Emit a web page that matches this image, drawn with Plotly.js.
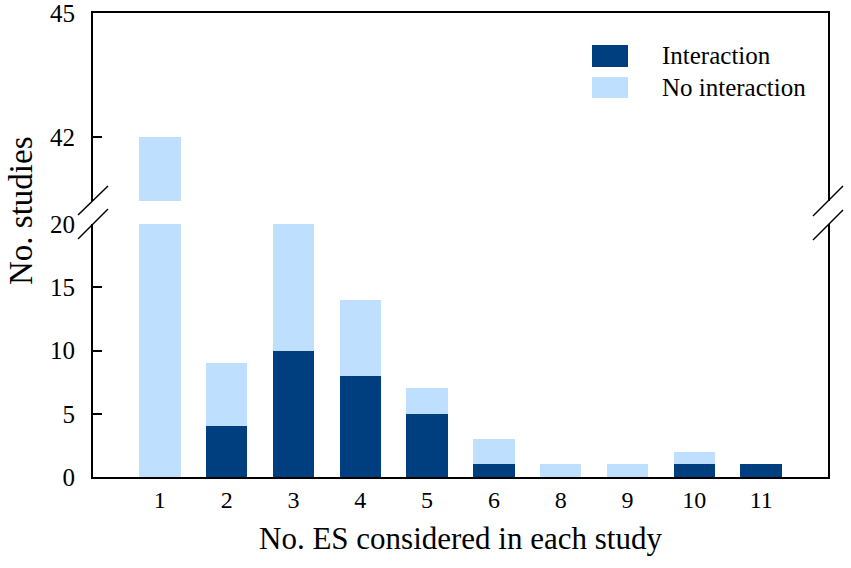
<!DOCTYPE html>
<html>
<head>
<meta charset="utf-8">
<script src="https://cdn.plot.ly/plotly-3.0.1.min.js"></script>
<style>
  html, body { margin: 0; padding: 0; background: #fff; }
  #plotDiv { width: 851px; height: 568px; }
</style>
</head>
<body>
<div id="plotDiv"></div>
<script>
// Data
const categories = ["1", "2", "3", "4", "5", "6", "8", "9", "10", "11"];
const interaction = [0, 4, 10, 8, 5, 1, 0, 0, 1, 1];
const noInteraction = [42, 5, 10, 6, 2, 2, 1, 1, 1, 0];
const seriesNames = ["Interaction", "No interaction"];
const lowerTicks = [0, 5, 10, 15, 20];
const upperTicks = [42, 45];

const darkBlue = "#003f7f";
const lightBlue = "#bfdfff";
const serif = "Liberation Serif";

// plot box in pixels (used only for decorations)
const W = 851, H = 568;
const L = 93, R = 23, T = 13, B = 91;
const pw = W - L - R, ph = H - T - B;
function px(x) { return (x - L) / pw; }
function py(y) { return (H - B - y) / ph; }

const lowerTop = py(224);
const upperBottom = py(201);

function barTrace(vals, name, color, xa, ya) {
  return {
    type: "bar",
    x: categories,
    y: vals,
    name: name,
    xaxis: xa,
    yaxis: ya,
    width: 0.62,
    marker: { color: color, line: { width: 0 } },
    showlegend: false,
    hoverinfo: "x+y+name",
  };
}

let traces = [
  barTrace(interaction, seriesNames[0], darkBlue, "x", "y"),
  barTrace(noInteraction, seriesNames[1], lightBlue, "x", "y"),
  barTrace(interaction, seriesNames[0], darkBlue, "x2", "y2"),
  barTrace(noInteraction, seriesNames[1], lightBlue, "x2", "y2"),
];

// axis break slashes
let shapes = [];
function slash(x1, y1, x2, y2) {
  shapes.push({
    type: "line", xref: "paper", yref: "paper",
    x0: px(x1), y0: py(y1), x1: px(x2), y1: py(y2),
    line: { color: "#000", width: 1.5 },
  });
}
slash(78, 215, 108, 186);
slash(78, 239, 108, 209);
slash(813, 216, 843, 186);
slash(813, 240, 843, 210);

// legend drawn as boxes + labels
const legendColors = [darkBlue, lightBlue];
const legendRows = [[45, 67], [77, 98]];
let annotations = [];
for (let i = 0; i < seriesNames.length; i++) {
  shapes.push({
    type: "rect", xref: "paper", yref: "paper",
    x0: px(592), x1: px(628),
    y0: py(legendRows[i][1]), y1: py(legendRows[i][0]),
    fillcolor: legendColors[i], line: { width: 0 },
  });
  annotations.push({
    xref: "paper", yref: "paper",
    x: px(660), y: py((legendRows[i][0] + legendRows[i][1]) / 2),
    xanchor: "left", yanchor: "middle",
    text: seriesNames[i], showarrow: false,
    font: { family: serif, size: 25, color: "#000" },
  });
}

// y axis title spans both panels
annotations.push({
  xref: "paper", yref: "paper",
  x: px(21), y: py(211),
  xanchor: "center", yanchor: "middle",
  textangle: -90,
  text: "No. studies", showarrow: false,
  font: { family: serif, size: 33, color: "#000" },
});

const axisCommon = {
  showgrid: false,
  zeroline: false,
  showline: true,
  linecolor: "#000",
  linewidth: 2,
};

let layout = {
  width: W,
  height: H,
  margin: { l: L, r: R, t: T, b: B },
  paper_bgcolor: "#fff",
  plot_bgcolor: "#fff",
  barmode: "stack",
  showlegend: false,
  font: { family: serif, color: "#000" },
  xaxis: Object.assign({}, axisCommon, {
    type: "category",
    range: [-1, 10],
    anchor: "y",
    ticks: "",
    ticklabelstandoff: 0,
    tickfont: { family: serif, size: 24, color: "#000" },
    title: {
      text: "No. ES considered in each study",
      font: { family: serif, size: 31, color: "#000" },
      standoff: 16,
    },
  }),
  xaxis2: Object.assign({}, axisCommon, {
    type: "category",
    matches: "x",
    anchor: "y2",
    side: "top",
    ticks: "",
    showticklabels: false,
  }),
  yaxis: Object.assign({}, axisCommon, {
    domain: [0, lowerTop],
    range: [0, 20],
    anchor: "x",
    mirror: true,
    tickvals: lowerTicks,
    ticks: "inside",
    ticklen: 9,
    tickwidth: 1.5,
    tickcolor: "#000",
    ticklabelstandoff: 11,
    ticklabeloverflow: "allow",
    tickfont: { family: serif, size: 25, color: "#000" },
  }),
  yaxis2: Object.assign({}, axisCommon, {
    domain: [upperBottom, 1],
    range: [40.45, 45],
    anchor: "x2",
    mirror: true,
    tickvals: upperTicks,
    ticks: "inside",
    ticklen: 9,
    tickwidth: 1.5,
    tickcolor: "#000",
    ticklabelstandoff: 11,
    ticklabeloverflow: "allow",
    tickfont: { family: serif, size: 25, color: "#000" },
  }),
  shapes: shapes,
  annotations: annotations,
};

Plotly.newPlot("plotDiv", traces, layout, { displayModeBar: false, responsive: false });
</script>
</body>
</html>
